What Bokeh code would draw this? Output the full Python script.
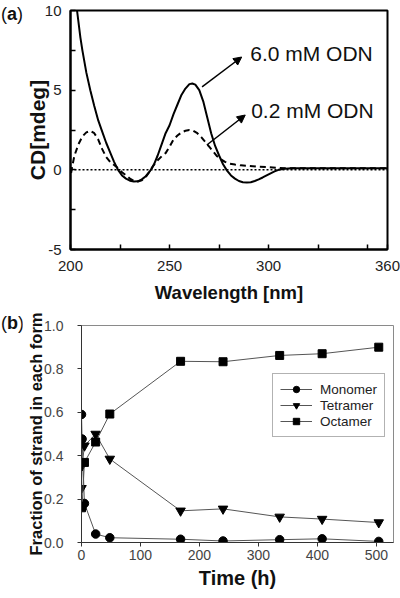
from bokeh.plotting import figure
from bokeh.models import (FixedTicker, Label, Arrow, NormalHead, Span, Legend,
                          LegendItem, Range1d, PrintfTickFormatter, Div)
from bokeh.layouts import column, row
from bokeh.embed import file_html
from bokeh.resources import INLINE

FONT = "Liberation Sans"

# ---------------- Panel (a): CD spectra ----------------
wl_6mM = [203.3, 205, 206, 208, 210, 212, 214, 216, 218, 220, 222, 224, 226, 228, 230,
          232, 234, 236, 238, 240, 242, 244, 246, 248, 250, 252, 254, 256, 258, 260,
          261.5, 263, 265, 267, 269, 271, 273, 275, 277, 279, 281, 283, 285, 287, 289,
          291, 293, 295, 297, 299, 301, 303, 305, 308, 312, 320, 330, 340, 350, 358, 360]
cd_6mM = [10.0, 8.3, 7.5, 6.1, 5.0, 4.0, 3.1, 2.4, 1.7, 1.1, 0.5, 0.0, -0.35, -0.55, -0.68,
          -0.73, -0.72, -0.6, -0.4, -0.1, 0.3, 0.9, 1.6, 2.3, 2.8, 3.5, 4.1, 4.7, 5.1, 5.38,
          5.42, 5.35, 5.0, 4.3, 3.3, 2.3, 1.5, 0.9, 0.35, -0.05, -0.35, -0.55, -0.7, -0.78, -0.8,
          -0.78, -0.7, -0.6, -0.48, -0.35, -0.22, -0.1, 0.0, 0.07, 0.1, 0.1, 0.1, 0.1, 0.1, 0.1, 0.1]

wl_02mM = [200.3, 201, 202, 204, 206, 208, 210, 212, 214, 216, 218, 220, 222, 224, 226,
           228, 230, 232, 234, 236, 238, 240, 242, 244, 246, 248, 250, 252, 254, 256,
           258, 260, 262, 264, 266, 268, 270, 272, 274, 276, 278, 280, 283, 286, 290,
           295, 300, 305, 310, 320, 340, 360]
cd_02mM = [-0.2, 0.3, 0.9, 1.6, 2.1, 2.35, 2.45, 2.3, 1.9, 1.3, 0.8, 0.5, 0.3, 0.1, -0.15,
           -0.35, -0.55, -0.7, -0.73, -0.65, -0.45, -0.1, 0.3, 0.6, 0.85, 1.05, 1.45, 1.9, 2.15, 2.35,
           2.45, 2.5, 2.45, 2.3, 2.05, 1.75, 1.45, 1.15, 0.85, 0.65, 0.5, 0.4, 0.33, 0.28, 0.25,
           0.2, 0.16, 0.12, 0.1, 0.1, 0.1, 0.1]

wl_ticks = [200, 225, 250, 275, 300, 325, 350, 360]
wl_labels = {200: "200", 225: "", 250: "250", 275: "", 300: "300", 325: "", 350: "", 360: "360"}
cd_ticks = [-5, -2.5, 0, 2.5, 5, 7.5, 10]
cd_labels = {-5: "-5", -2.5: "", 0: "0", 2.5: "", 5: "5", 7.5: "", 10: "10"}

# ---------------- Panel (b): fractions vs time ----------------
time_h = [0, 1, 5, 24, 48, 168, 240, 336, 408, 504]
monomer = [0.59, 0.477, 0.18, 0.039, 0.022, 0.015, 0.007, 0.013, 0.017, 0.005]
tetramer = [0.25, 0.355, 0.446, 0.50, 0.385, 0.146, 0.155, 0.118, 0.108, 0.092]
octamer = [0.16, 0.168, 0.369, 0.463, 0.592, 0.835, 0.833, 0.862, 0.87, 0.90]
series_names = ["Monomer", "Tetramer", "Octamer"]
time_ticks = [0, 100, 200, 300, 400, 500]
frac_ticks = [0, 0.2, 0.4, 0.6, 0.8, 1.0]

TAG_W = 22
tag_style = {"font-family": FONT, "font-size": "18px", "color": "#111111",
             "line-height": "20px", "white-space": "nowrap"}

# ======== Figure A ========
pa = figure(width=400 - TAG_W, height=312, x_range=Range1d(200, 360), y_range=Range1d(-5, 10),
            output_backend="svg", toolbar_location=None,
            min_border_left=65 - TAG_W, min_border_right=13, min_border_top=10,
            min_border_bottom=63)
pa.grid.visible = False
pa.outline_line_color = "black"
pa.outline_line_width = 2

pa.line(wl_6mM, cd_6mM, line_color="black", line_width=2)
pa.line(wl_02mM, cd_02mM, line_color="black", line_width=2, line_dash="6 4")
pa.add_layout(Span(location=0, dimension="width", line_color="black", line_width=1.5,
                   line_dash="2 2"))

for ax in (pa.xaxis[0], pa.yaxis[0]):
    ax.axis_line_color = "black"
    ax.axis_line_width = 2
    ax.major_tick_in = 5
    ax.major_tick_out = 0
    ax.major_tick_line_color = "black"
    ax.major_tick_line_width = 1.5
    ax.minor_tick_line_color = None
    ax.major_label_text_font = FONT
    ax.major_label_text_font_size = "15px"
    ax.major_label_text_color = "#222222"
    ax.axis_label_text_font = FONT
    ax.axis_label_text_font_style = "bold"
    ax.axis_label_text_color = "#111111"

pa.xaxis.ticker = FixedTicker(ticks=wl_ticks)
pa.xaxis.major_label_overrides = wl_labels
pa.xaxis.major_label_standoff = 11
pa.xaxis.axis_label = "Wavelength [nm]"
pa.xaxis.axis_label_text_font_size = "18.5px"
pa.xaxis.axis_label_standoff = 8

pa.yaxis.ticker = FixedTicker(ticks=cd_ticks)
pa.yaxis.major_label_overrides = cd_labels
pa.yaxis.major_label_standoff = 9
pa.yaxis.major_label_orientation = "horizontal"
pa.yaxis.axis_label = "CD[mdeg]"
pa.yaxis.axis_label_text_font_size = "21px"
pa.yaxis.axis_label_standoff = -7

pa.add_layout(Arrow(end=NormalHead(size=8, fill_color="black", line_color="black"),
                    x_start=266.4, y_start=5.21, x_end=286.4, y_end=7.08,
                    line_color="black", line_width=1.5))
pa.add_layout(Arrow(end=NormalHead(size=8, fill_color="black", line_color="black"),
                    x_start=268.8, y_start=1.56, x_end=288.2, y_end=3.44,
                    line_color="black", line_width=1.5))
pa.add_layout(Label(x=290.7, y=7.3, text="6.0 mM ODN", text_align="left",
                    text_baseline="middle", text_font=FONT, text_font_size="21px",
                    text_color="#111111"))
pa.add_layout(Label(x=291.2, y=3.75, text="0.2 mM ODN", text_align="left",
                    text_baseline="middle", text_font=FONT, text_font_size="21px",
                    text_color="#111111"))

tag_a = Div(text="(<b>a</b>)", width=TAG_W, height=30, margin=0,
            styles=dict(tag_style, **{"padding-top": "4px", "padding-left": "1px"}))

# ======== Figure B ========
pb = figure(width=400 - TAG_W, height=286, x_range=Range1d(0, 529), y_range=Range1d(0, 1),
            output_backend="svg", toolbar_location=None,
            min_border_left=81 - TAG_W, min_border_right=7, min_border_top=13,
            min_border_bottom=56)
pb.grid.visible = False
pb.outline_line_color = "#8a8a8a"
pb.outline_line_width = 1

markers = ["circle", "inverted_triangle", "square"]
sizes = [8.5, 9.5, 8]
items = []
for name, ys, mk, sz in zip(series_names, [monomer, tetramer, octamer], markers, sizes):
    ln = pb.line(time_h, ys, line_color="#555555", line_width=1)
    sc = pb.scatter(time_h, ys, marker=mk, size=sz, fill_color="black", line_color="black")
    items.append(LegendItem(label=name, renderers=[ln, sc]))

legend = Legend(items=items, location=(191, 105), border_line_color="#666666",
                border_line_width=1, background_fill_color="white", background_fill_alpha=1,
                padding=7, spacing=0, margin=0, glyph_width=32, glyph_height=16,
                label_height=16, label_standoff=8, label_text_font=FONT,
                label_text_font_size="13.5px", label_text_color="#222222")
pb.add_layout(legend)

for ax in (pb.xaxis[0], pb.yaxis[0]):
    ax.axis_line_color = "#333333"
    ax.axis_line_width = 1
    ax.major_tick_in = 0
    ax.major_tick_out = 4
    ax.major_tick_line_color = "#333333"
    ax.minor_tick_line_color = None
    ax.major_label_text_font = FONT
    ax.major_label_text_font_size = "14px"
    ax.major_label_text_color = "#444444"
    ax.axis_label_text_font = FONT
    ax.axis_label_text_font_style = "bold"
    ax.axis_label_text_color = "#111111"

pb.xaxis.ticker = FixedTicker(ticks=time_ticks)
pb.xaxis.major_label_standoff = 3
pb.xaxis.axis_label = "Time (h)"
pb.xaxis.axis_label_text_font_size = "20px"
pb.xaxis.axis_label_standoff = 4

pb.yaxis.ticker = FixedTicker(ticks=frac_ticks)
pb.yaxis.formatter = PrintfTickFormatter(format="%.1f")
pb.yaxis.major_label_standoff = 14
pb.yaxis.major_label_orientation = "horizontal"
pb.yaxis.axis_label = "Fraction of strand in each form"
pb.yaxis.axis_label_text_font_size = "16.5px"
pb.yaxis.axis_label_standoff = -4

tag_b = Div(text="(<b>b</b>)", width=TAG_W, height=30, margin=0,
            styles=dict(tag_style, **{"padding-top": "1px", "padding-left": "1px"}))

layout = column(row(tag_a, pa, spacing=0), row(tag_b, pb, spacing=0), spacing=0)
open("out.html", "w").write(file_html(layout, INLINE))
